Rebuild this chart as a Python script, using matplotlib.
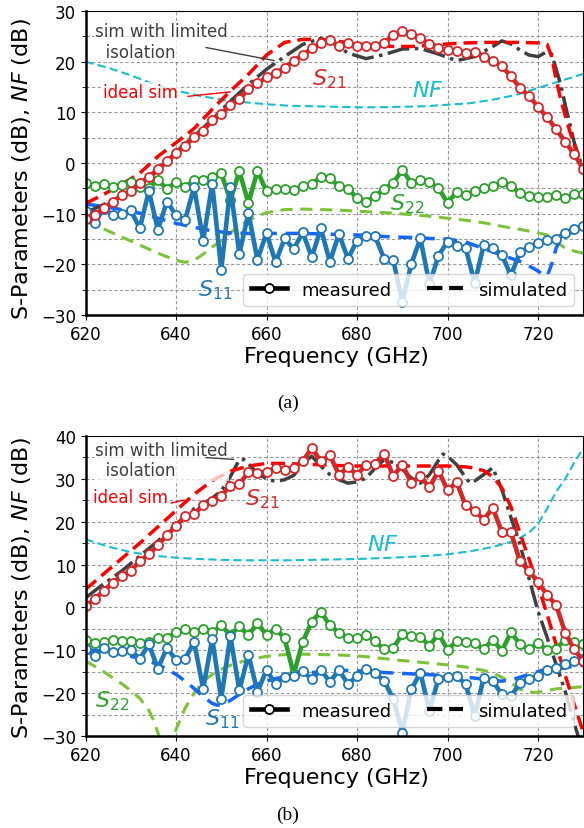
import numpy as np
import matplotlib.pyplot as plt
from matplotlib.lines import Line2D
from matplotlib.ticker import MultipleLocator

plt.rcParams['font.family'] = ['DejaVu Sans']

# measured points every 2 GHz
freq = np.arange(620, 732, 2)

# ---------------- panel (a) ----------------
a_s21 = [-11.0, -10.3, -8.9, -7.6, -6.4, -5.5, -4.0, -2.7, -1.2, 0.3,
         1.9, 3.4, 5.1, 6.3, 8.5, 9.7, 11.4, 12.6, 14.6, 15.7,
         16.9, 17.8, 18.7, 20.2, 21.3, 22.6, 23.7, 24.3, 23.0, 23.6,
         23.0, 23.0, 23.1, 23.7, 25.2, 26.0, 25.4, 24.6, 23.5, 22.7,
         22.3, 22.2, 21.7, 22.0, 21.0, 20.2, 19.1, 17.1, 14.9, 13.2,
         11.1, 9.0, 6.7, 4.2, 1.7, -1.2]
a_s22 = [-3.9, -4.6, -4.1, -4.7, -4.3, -3.8, -4.8, -4.9, -3.4, -5.1,
         -3.7, -4.8, -3.3, -3.3, -2.8, -2.0, -7.4, -1.6, -7.9, -1.6,
         -5.6, -5.1, -5.1, -5.3, -4.6, -4.1, -2.8, -3.0, -4.6, -5.1,
         -6.9, -7.6, -6.6, -5.1, -4.0, -1.3, -4.0, -3.3, -3.7, -5.0,
         -7.8, -5.8, -6.3, -5.5, -5.0, -4.6, -3.8, -4.6, -5.9, -6.6,
         -6.7, -6.7, -6.3, -7.0, -6.2, -6.1]
a_s11 = [-9.4, -11.9, -9.0, -10.3, -10.1, -9.3, -12.9, -5.5, -13.2, -7.6,
         -10.3, -11.2, -4.8, -15.3, -4.1, -21.1, -4.8, -17.9, -9.9, -19.1,
         -13.8, -19.6, -14.9, -17.0, -13.7, -18.6, -12.9, -19.5, -14.0, -18.9,
         -15.3, -14.5, -14.5, -18.9, -19.1, -27.4, -19.9, -14.9, -23.9, -18.3,
         -15.5, -16.4, -16.8, -23.7, -16.2, -16.8, -18.1, -22.2, -17.6, -16.6,
         -15.8, -15.1, -15.0, -13.8, -13.0, -12.5]

a_ideal_f = [620, 624, 628, 632, 636, 640, 644, 648, 652, 656, 660, 664, 668, 672,
             676, 680, 684, 688, 692, 696, 700, 704, 708, 712, 716, 720, 722,
             723, 724, 725, 726, 727, 728, 729, 730]
a_ideal = [-8.0, -6.2, -4.2, -2.0, 1.3, 4.0, 6.8, 10.6, 14.2, 17.5, 21.3, 23.8, 24.4, 24.4,
           24.0, 23.5, 23.2, 23.0, 23.0, 23.2, 23.5, 23.7, 23.8, 23.8, 23.8, 23.7, 23.4,
           21.0, 16.5, 12.6, 9.4, 6.3, 3.6, 1.0, -1.8]
a_iso_f = [620, 624, 628, 632, 636, 640, 644, 648, 652, 656, 660, 664, 668, 672,
           675, 678, 682, 686, 690, 694, 698, 702, 706, 710, 712, 714, 716, 718,
           720, 722, 723, 724, 725, 726, 727, 728, 729, 730]
a_iso = [-9.8, -8.2, -6.4, -4.4, -1.5, 2.2, 5.3, 8.6, 12.2, 15.5, 18.5, 21.0, 23.4, 24.6,
         23.5, 21.7, 20.6, 21.4, 22.5, 22.6, 21.5, 20.2, 21.0, 23.0, 24.1, 23.5, 22.3, 21.3,
         21.0, 22.0, 21.5, 18.5, 15.5, 11.5, 7.8, 4.0, 1.3, -1.5]
a_nf_f = [620, 625, 630, 635, 640, 645, 650, 655, 660, 665, 670, 675, 680, 685,
          690, 695, 700, 705, 710, 715, 720, 725, 730]
a_nf = [20.0, 18.8, 17.3, 15.6, 14.3, 13.3, 12.5, 12.0, 11.6, 11.3, 11.2, 11.1, 11.0, 11.0,
        11.1, 11.2, 11.5, 11.8, 12.5, 13.4, 14.8, 16.2, 17.6]
a_s22sim_f = [620, 624, 628, 632, 636, 640, 642, 644, 646, 648, 650, 652, 654, 656, 658,
              660, 664, 668, 672, 676, 680, 684, 688, 692, 696, 700, 704, 708, 712, 716,
              720, 722, 724, 726, 728, 730]
a_s22sim = [-11.5, -13.0, -14.6, -16.2, -17.8, -19.2, -19.6, -19.2, -18.0, -16.6, -15.3,
            -13.8, -12.4, -11.3, -10.5, -9.8, -9.2, -9.1, -9.2, -9.3, -9.5, -9.7, -9.9,
            -10.2, -10.5, -10.9, -11.3, -11.8, -12.5, -13.1, -13.8, -14.2, -15.5, -16.8,
            -17.4, -17.8]
a_s11sim_f = [620, 624, 628, 632, 636, 640, 644, 648, 652, 656, 660, 664, 668, 672, 676,
              680, 684, 688, 692, 696, 700, 704, 708, 712, 716, 719, 721, 722, 723, 724,
              725, 727, 730]
a_s11sim = [-8.1, -8.6, -9.2, -9.9, -10.9, -11.9, -12.7, -13.4, -13.8, -13.9, -13.9, -13.9,
            -13.9, -14.0, -14.1, -14.2, -14.4, -14.6, -14.7, -14.9, -15.0, -15.6, -16.9,
            -18.2, -19.4, -20.8, -21.9, -22.4, -20.0, -16.8, -15.0, -13.9, -12.7]

# ---------------- panel (b) ----------------
b_s21 = [0.3, 2.0, 3.8, 5.8, 7.3, 8.6, 10.8, 12.4, 14.5, 16.9,
         19.0, 21.3, 21.7, 24.0, 24.8, 26.1, 28.3, 28.7, 31.6, 31.4,
         31.6, 32.6, 32.0, 32.6, 34.1, 37.2, 34.1, 35.5, 31.0, 32.7,
         31.0, 33.2, 33.5, 35.9, 30.6, 33.3, 29.1, 30.6, 28.0, 31.9,
         27.3, 29.2, 23.8, 22.6, 20.5, 23.2, 17.6, 17.6, 10.8, 8.5,
         5.9, 2.9, 0.6, -5.9, -9.8, -12.5]
b_s22 = [-7.5, -8.4, -8.1, -7.6, -7.9, -7.9, -8.4, -8.1, -7.1, -7.1,
         -5.8, -5.0, -5.8, -5.0, -5.8, -4.2, -6.5, -4.4, -6.5, -3.6,
         -6.5, -5.0, -7.2, -15.6, -8.0, -3.3, -1.0, -4.2, -5.9, -7.1,
         -7.1, -6.5, -7.9, -9.8, -9.4, -6.3, -6.7, -6.8, -9.0, -6.1,
         -9.9, -7.9, -8.0, -8.4, -9.8, -7.5, -10.2, -5.8, -8.6, -9.8,
         -8.4, -9.9, -9.6, -7.5, -8.1, -8.6]
b_s11 = [-9.8, -11.3, -9.4, -10.4, -10.2, -10.0, -12.0, -8.6, -14.3, -9.4,
         -12.3, -12.0, -8.1, -19.0, -7.3, -21.3, -6.7, -19.3, -11.0, -19.7,
         -14.6, -17.9, -16.2, -15.9, -14.8, -16.8, -14.5, -17.4, -14.6, -17.9,
         -16.0, -14.3, -15.2, -17.2, -21.3, -29.2, -19.1, -15.2, -24.2, -16.6,
         -16.2, -16.0, -17.9, -25.3, -16.4, -17.2, -20.3, -20.7, -17.7, -16.6,
         -16.0, -14.5, -14.1, -13.1, -12.5, -12.1]

b_ideal_f = [620, 624, 628, 632, 636, 640, 644, 648, 652, 656, 660, 664, 668, 672, 676,
             680, 684, 688, 692, 696, 700, 704, 706, 708, 710, 712, 714, 716, 718, 720,
             722, 724, 726, 728, 730]
b_ideal = [4.2, 7.8, 11.4, 15.0, 18.8, 22.6, 26.4, 29.6, 31.8, 33.0, 33.6, 33.6, 33.4, 33.3,
           33.1, 33.0, 33.0, 33.0, 33.0, 33.0, 33.0, 32.8, 32.5, 31.9, 30.5, 27.9, 23.5,
           17.4, 11.3, 5.0, -1.6, -8.7, -15.8, -22.6, -29.2]
b_iso_f = [620, 624, 628, 632, 636, 640, 644, 648, 650, 652, 654, 655, 656, 658, 660, 662,
           664, 666, 668, 670, 672, 674, 676, 678, 680, 682, 684, 686, 688, 690, 692, 694,
           696, 698, 699, 700, 702, 704, 705, 706, 708, 710, 712, 714, 716, 718, 720, 722,
           724, 726, 728, 730]
b_iso = [2.2, 5.5, 8.5, 12.0, 15.5, 19.4, 23.0, 25.5, 27.2, 30.5, 34.5, 34.5, 33.5, 31.3,
         30.0, 29.4, 29.8, 30.8, 33.5, 35.3, 33.0, 31.0, 29.8, 29.0, 29.3, 30.2, 32.5, 34.5,
         33.8, 32.2, 30.2, 29.0, 31.0, 34.3, 35.8, 35.3, 33.3, 30.3, 29.0, 29.5, 31.0, 32.6,
         27.5, 21.0, 14.8, 6.8, -0.9, -7.0, -13.3, -19.6, -27.0, -34.0]
b_nf_f = [620, 625, 630, 635, 640, 645, 650, 655, 660, 665, 670, 675, 680, 685, 690,
          695, 700, 705, 710, 714, 716, 718, 720, 722, 724, 726, 728, 730]
b_nf = [15.9, 14.2, 12.9, 12.1, 11.6, 11.3, 11.1, 11.0, 11.0, 11.0, 11.1, 11.2, 11.3, 11.5,
        11.7, 12.0, 12.4, 13.1, 14.1, 15.3, 16.2, 17.5, 19.5, 23.0, 27.0, 30.0, 33.8, 37.2]
b_s22sim_f = [620, 622, 624, 626, 628, 630, 632, 634, 635, 636, 637, 638, 639, 640, 641,
              642, 644, 646, 648, 650, 652, 656, 660, 664, 668, 672, 676, 680, 684, 688,
              692, 696, 700, 704, 708, 710, 712, 714, 716, 718, 720, 724, 730]
b_s22sim = [-12.5, -13.7, -15.0, -16.4, -17.8, -19.4, -21.2, -24.0, -26.3, -29.2, -33.5,
            -35.0, -31.0, -28.5, -26.0, -23.5, -20.0, -17.3, -15.6, -14.4, -13.5, -12.2,
            -11.4, -11.0, -10.9, -11.0, -11.1, -11.3, -11.7, -12.2, -12.6, -13.0, -13.4,
            -13.9, -14.7, -15.3, -16.3, -17.6, -19.1, -19.8, -19.8, -19.0, -18.5]
b_s11sim_f = [620, 624, 628, 632, 636, 640, 643, 646, 648, 649, 650, 652, 654, 656, 658,
              662, 666, 670, 674, 678, 682, 686, 690, 694, 698, 702, 706, 710, 712, 714,
              716, 718, 720, 722, 725, 730]
b_s11sim = [-9.8, -10.2, -10.9, -11.9, -13.3, -15.6, -18.0, -20.8, -22.4, -22.8, -22.7,
            -21.7, -20.3, -19.0, -17.9, -16.6, -15.8, -15.2, -14.8, -14.7, -14.9, -15.2,
            -15.4, -15.6, -15.8, -16.0, -16.5, -17.0, -17.2, -16.9, -16.3, -15.6, -15.0,
            -14.3, -14.1, -13.5]

c_red = '#d62728'
c_green = '#2ca02c'
c_blue = '#1f77b4'
c_gray = '#404040'
c_cyan = '#17becf'
c_ygreen = '#7cc33a'
c_bblue = '#1565ff'


def draw_panel(ax, s21, s22, s11, ideal, iso, nf, s22sim, s11sim, ylim, labels):
    # simulated curves
    ax.plot(*nf, '--', color=c_cyan, lw=1.5, dashes=(4, 2))
    ax.plot(*s22sim, '--', color=c_ygreen, lw=2.2, dashes=(4, 2.5))
    ax.plot(*s11sim, '--', color=c_bblue, lw=2.5, dashes=(4, 2.5))
    ax.plot(*iso, '-.', color=c_gray, lw=2.5)
    ax.plot(*ideal, '--', color='red', lw=2.5, dashes=(4, 2))

    # measured curves
    for vals, col in [(s22, c_green), (s11, c_blue), (s21, c_red)]:
        ax.plot(freq, vals, '-o', color=col, lw=3.3, ms=6.5, mfc='white',
                mec=col, mew=1.3)

    ax.set_xlim(620, 730)
    ax.set_ylim(*ylim)
    ax.xaxis.set_major_locator(MultipleLocator(20))
    ax.yaxis.set_major_locator(MultipleLocator(10))
    ax.yaxis.set_minor_locator(MultipleLocator(5))
    ax.tick_params(labelsize=12)
    ax.tick_params(axis='y', which='minor', length=3)
    ax.grid(which='major', ls=(0, (3, 2)), color='gray', lw=0.8, alpha=0.8)
    ax.grid(which='minor', axis='y', ls=(0, (3, 2)), color='gray', lw=0.8, alpha=0.8)
    for side in ['left', 'bottom']:
        ax.spines[side].set_linewidth(1.8)
    for side in ['top', 'right']:
        ax.spines[side].set_linewidth(0.8)

    box = dict(fc='white', ec='none', alpha=0.75, pad=1)
    ax.text(*labels['iso_txt'], 'sim with limited\n  isolation', color=c_gray,
            fontsize=12, ha='left', va='center', bbox=box)
    ax.annotate('', xy=labels['iso_arrow'][1], xytext=labels['iso_arrow'][0],
                arrowprops=dict(arrowstyle='-', color=c_gray, lw=1.0))
    ax.text(*labels['ideal_txt'], 'ideal sim', color='red', fontsize=12,
            ha='left', va='center', bbox=box)
    ax.annotate('', xy=labels['ideal_arrow'][1], xytext=labels['ideal_arrow'][0],
                arrowprops=dict(arrowstyle='-', color='red', lw=1.0))
    ax.text(*labels['s21'], '$S_{21}$', color=c_red, fontsize=16, va='baseline')
    ax.text(*labels['nf'], '$NF$', color=c_cyan, fontsize=16, va='baseline')
    ax.text(*labels['s22'], '$S_{22}$', color=c_green, fontsize=16, va='baseline')
    ax.text(*labels['s11'], '$S_{11}$', color=c_blue, fontsize=16, va='baseline')

    handles = [Line2D([], [], color='black', lw=3.3, marker='o', ms=6.5, mfc='white',
                      mew=1.3),
               Line2D([], [], color='black', lw=3, ls='--')]
    ax.legend(handles, ['measured', 'simulated'], loc='lower right', ncol=2,
              fontsize=13, handlelength=2.0, columnspacing=2.0)


fig = plt.figure(figsize=(5.84, 8.29), dpi=100)
ax1 = fig.add_axes([85.5 / 584, 1 - 316 / 829, 497.8 / 584, 304 / 829])
ax2 = fig.add_axes([85.5 / 584, 1 - 737 / 829, 497.8 / 584, 300 / 829])

draw_panel(ax1, a_s21, a_s22, a_s11, (a_ideal_f, a_ideal), (a_iso_f, a_iso),
           (a_nf_f, a_nf), (a_s22sim_f, a_s22sim), (a_s11sim_f, a_s11sim), (-30, 30),
           {'iso_txt': (622.1, 24.0), 'iso_arrow': ((646.0, 22.9), (662.3, 20.1)),
            'ideal_txt': (623.9, 14.0), 'ideal_arrow': ((642.0, 13.1), (652.6, 14.1)),
            's21': (670.1, 15.6), 'nf': (692.1, 13.3), 's22': (687.3, -9.1),
            's11': (644.9, -26.2)})
draw_panel(ax2, b_s21, b_s22, b_s11, (b_ideal_f, b_ideal), (b_iso_f, b_iso),
           (b_nf_f, b_nf), (b_s22sim_f, b_s22sim), (b_s11sim_f, b_s11sim), (-30, 40),
           {'iso_txt': (622.1, 34.4), 'iso_arrow': ((646.0, 35.0), (653.4, 34.5)),
            'ideal_txt': (621.7, 25.7), 'ideal_arrow': ((638.3, 24.2), (642.4, 25.2)),
            's21': (655.2, 24.0), 'nf': (682.1, 13.5), 's22': (622.1, -23.0),
            's11': (646.4, -27.3)})

ylab = 'S-Parameters (dB), $NF$ (dB)'
panels = [(169, 363, 408, '(a)'), (588, 784, 820, '(b)')]
for yc, xlab_base, cap_base, lab in panels:
    fig.text(28.5 / 584, 1 - yc / 829, ylab, fontsize=16, rotation=90,
             rotation_mode='anchor', ha='center', va='baseline')
    fig.text(336.7 / 584, 1 - xlab_base / 829, 'Frequency (GHz)', fontsize=16,
             ha='center', va='baseline')
    fig.text(288 / 584, 1 - cap_base / 829, lab, fontsize=14, ha='center',
             va='baseline', family='Liberation Serif')

fig.savefig('out.png', dpi=100)
